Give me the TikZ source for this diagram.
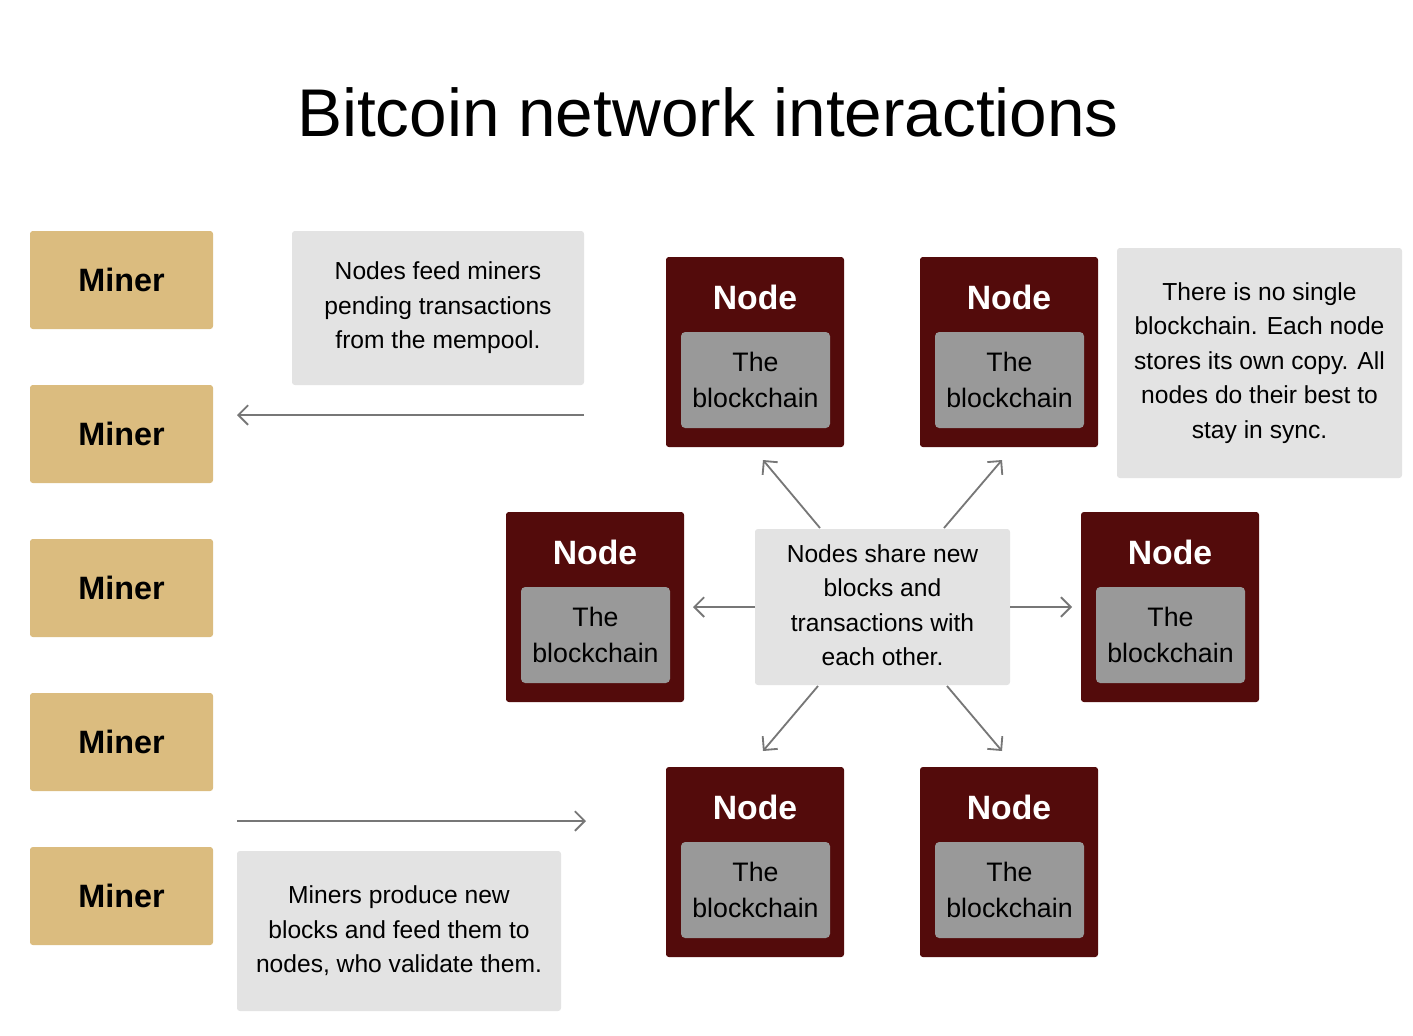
\documentclass[tikz,border=0pt]{standalone}
\usepackage{fontspec}
\setmainfont{Liberation Sans}
\usetikzlibrary{arrows.meta}
\definecolor{tan}{HTML}{DBBC7F}
\definecolor{lgray}{HTML}{E3E3E3}
\definecolor{maroon}{HTML}{530B0B}
\definecolor{mgray}{HTML}{999999}
\definecolor{agray}{HTML}{777777}
\tikzset{
 miner/.style={fill=tan,rounded corners=2pt,minimum width=183\pgflinewidth,font=\fontsize{23}{27}\selectfont},
 note/.style={fill=lgray,rounded corners=2pt,align=center,font=\fontsize{17.5}{24.5}\selectfont},
 nodebox/.style={fill=maroon,rounded corners=2pt},
 inner/.style={fill=mgray,rounded corners=3pt,align=center,font=\fontsize{19}{26}\selectfont},
 arr/.style={draw=agray,line width=1.3pt,-{Straight Barb[length=7pt,width=14pt]}}
}
\begin{document}
\begin{tikzpicture}[x=0.025cm,y=-0.025cm]
\useasboundingbox (0,0) rectangle (1413,1035);
\node[font=\fontsize{48}{56}\selectfont] (title) at (708,112) {Bitcoin network interactions};
\foreach \y/\n in {231/1,385/2,539/3,693/4,847/5}{
 \fill[tan,rounded corners=2pt] (30,\y) rectangle (213,\y+98);
 \node[font=\bfseries\fontsize{23}{27}\selectfont] (m\n) at (121.5,\y+49) {Miner};
}
\fill[lgray,rounded corners=2pt] (292,231) rectangle (584,385);
\node[note,fill=none] (t1) at (438,308) {Nodes feed miners\\pending transactions\\from the mempool.};
\fill[lgray,rounded corners=2pt] (237,851) rectangle (561,1011);
\node[note,fill=none] (t2) at (399,931) {Miners produce new\\blocks and feed them to\\nodes, who validate them.};
\fill[lgray,rounded corners=2pt] (1117,248) rectangle (1402,478);
\node[note,fill=none] (t3) at (1259.5,363) {There is no single\\blockchain. Each node\\stores its own copy. All\\nodes do their best to\\stay in sync.};
\fill[lgray,rounded corners=2pt] (755,529) rectangle (1010,685);
\node[note,fill=none] (c) at (882.5,605) {Nodes share new\\blocks and\\transactions with\\each other.};
\foreach \x/\y/\n in {666/257/a,920/257/b,506/512/c,1081/512/d,666/767/e,920/767/f}{
 \fill[maroon,rounded corners=2pt] (\x,\y) rectangle (\x+178,\y+190);
 \node[text=white,font=\bfseries\fontsize{24}{28}\selectfont] (n\n) at (\x+89,\y+40) {Node};
 \fill[mgray,rounded corners=3pt] (\x+15,\y+75) rectangle (\x+164,\y+171);
 \node[inner,fill=none,text=black] (b\n) at (\x+89.5,\y+123) {The\\blockchain};
}
\coordinate (p1) at (584,415); \coordinate (q1) at (237,415);
\coordinate (p2) at (237,821); \coordinate (q2) at (586,821);
\draw[arr] (p1) -- (q1);
\draw[arr] (p2) -- (q2);
\coordinate (s1) at (820,528); \coordinate (e1) at (763,460);
\coordinate (s2) at (944,528); \coordinate (e2) at (1002,460);
\coordinate (s3) at (755,607); \coordinate (e3) at (693,607);
\coordinate (s4) at (1010,607); \coordinate (e4) at (1072,607);
\coordinate (s5) at (818,686); \coordinate (e5) at (763,751);
\coordinate (s6) at (947,686); \coordinate (e6) at (1002,751);
\foreach \i in {1,...,6}{\draw[arr] (s\i) -- (e\i);}
\end{tikzpicture}
\end{document}
